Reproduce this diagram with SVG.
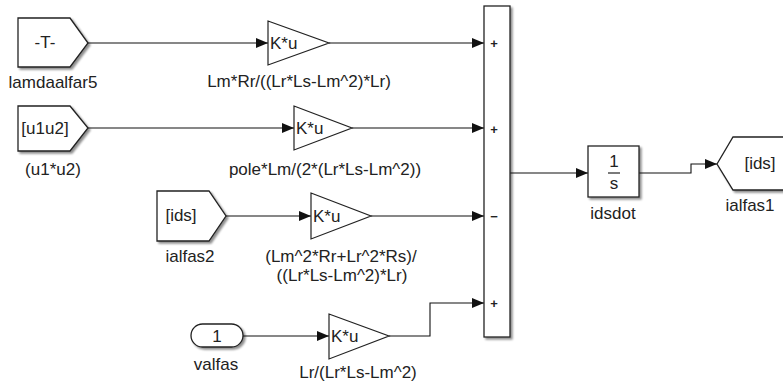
<svg xmlns="http://www.w3.org/2000/svg" width="783" height="385" viewBox="0 0 783 385">
  <style>
    text { font-family: "Liberation Sans", Arial, sans-serif; font-size: 17px; fill: #222; }
    .blk { fill: #fff; stroke: #222; stroke-width: 1.3; }
    .gain { fill: #fff; stroke: #222; stroke-width: 1.2; }
    .wire { fill: none; stroke: #111; stroke-width: 1.1; marker-end: url(#arrow); }
    .sign { font-size: 13px; font-weight: bold; }
    .mid { text-anchor: middle; }
  </style>
  <defs>
    <marker id="arrow" markerUnits="userSpaceOnUse" markerWidth="12" markerHeight="10" refX="12" refY="5" orient="auto">
      <path d="M0,0 L12,5 L0,10 z" fill="#111"/>
    </marker>
    <filter id="shadow" x="-20%" y="-10%" width="150%" height="130%">
      <feGaussianBlur in="SourceAlpha" stdDeviation="1.2"/>
      <feOffset dx="2" dy="2" result="b"/>
      <feComponentTransfer><feFuncA type="linear" slope="0.45"/></feComponentTransfer>
      <feMerge><feMergeNode/><feMergeNode in="SourceGraphic"/></feMerge>
    </filter>
  </defs>

  <!-- signal lines -->
  <g id="connectors">
    <path class="wire" d="M88,43 H268"/>
    <path class="wire" d="M88,128 H294"/>
    <path class="wire" d="M226,216 H311"/>
    <path class="wire" d="M243,336 H329"/>
    <path class="wire" d="M329,43 H484"/>
    <path class="wire" d="M352,128 H484"/>
    <path class="wire" d="M371,216 H484"/>
    <path class="wire" d="M389,336 H430 V303 H484"/>
    <path class="wire" d="M510,173 H588"/>
    <path class="wire" d="M639,173 H691 V164 H717"/>
  </g>

  <!-- From blocks -->
  <g id="lamdaalfar5">
    <polygon class="blk" filter="url(#shadow)" points="18,18 70,18 88,43 70,67 18,67"/>
    <text x="45" y="48" class="mid">-T-</text>
    <text x="53" y="88" class="mid">lamdaalfar5</text>
  </g>
  <g id="u1u2">
    <polygon class="blk" filter="url(#shadow)" points="18,106 70,106 88,128 70,151 18,151"/>
    <text x="45" y="134" class="mid">[u1u2]</text>
    <text x="53" y="175" class="mid">(u1*u2)</text>
  </g>
  <g id="ialfas2">
    <polygon class="blk" filter="url(#shadow)" points="157,191 209,191 226,216 209,241 157,241"/>
    <text x="181" y="221" class="mid">[ids]</text>
    <text x="190" y="262" class="mid">ialfas2</text>
  </g>

  <!-- Inport -->
  <g id="valfas">
    <rect class="blk" filter="url(#shadow)" x="191" y="324" width="52" height="23" rx="11.5"/>
    <text x="217" y="342" class="mid">1</text>
    <text x="216" y="370" class="mid">valfas</text>
  </g>

  <!-- Gain blocks -->
  <g id="gain1">
    <polygon class="gain" points="268,21 329,43 268,65"/>
    <text x="270" y="49">K*u</text>
    <text x="299" y="87" class="mid">Lm*Rr/((Lr*Ls-Lm^2)*Lr)</text>
  </g>
  <g id="gain2">
    <polygon class="gain" points="294,106 352,128 294,150"/>
    <text x="296" y="134">K*u</text>
    <text x="325" y="175" class="mid">pole*Lm/(2*(Lr*Ls-Lm^2))</text>
  </g>
  <g id="gain3">
    <polygon class="gain" points="311,193 371,216 311,239"/>
    <text x="313" y="222">K*u</text>
    <text x="341" y="262" class="mid">(Lm^2*Rr+Lr^2*Rs)/</text>
    <text x="342" y="281" class="mid">((Lr*Ls-Lm^2)*Lr)</text>
  </g>
  <g id="gain4">
    <polygon class="gain" points="329,314 389,336 329,359"/>
    <text x="331" y="342">K*u</text>
    <text x="358" y="378" class="mid">Lr/(Lr*Ls-Lm^2)</text>
  </g>

  <!-- Sum block -->
  <g id="sum">
    <rect class="blk" filter="url(#shadow)" x="484" y="6" width="26" height="331"/>
    <text x="494" y="48" class="sign mid">+</text>
    <text x="494" y="134" class="sign mid">+</text>
    <text x="494" y="221" class="sign mid">−</text>
    <text x="494" y="308" class="sign mid">+</text>
  </g>

  <!-- Integrator -->
  <g id="idsdot">
    <rect class="blk" filter="url(#shadow)" x="588" y="146" width="51" height="51"/>
    <text x="614" y="167" class="mid">1</text>
    <line x1="608" y1="173" x2="620" y2="173" stroke="#222" stroke-width="1.2"/>
    <text x="614" y="189" class="mid">s</text>
    <text x="613" y="219" class="mid">idsdot</text>
  </g>

  <!-- Goto block -->
  <g id="ialfas1">
    <polygon class="blk" filter="url(#shadow)" points="717,164 733,137 792,137 792,190 733,190"/>
    <text x="760" y="169" class="mid">[ids]</text>
    <text x="750" y="211" class="mid">ialfas1</text>
  </g>
</svg>
